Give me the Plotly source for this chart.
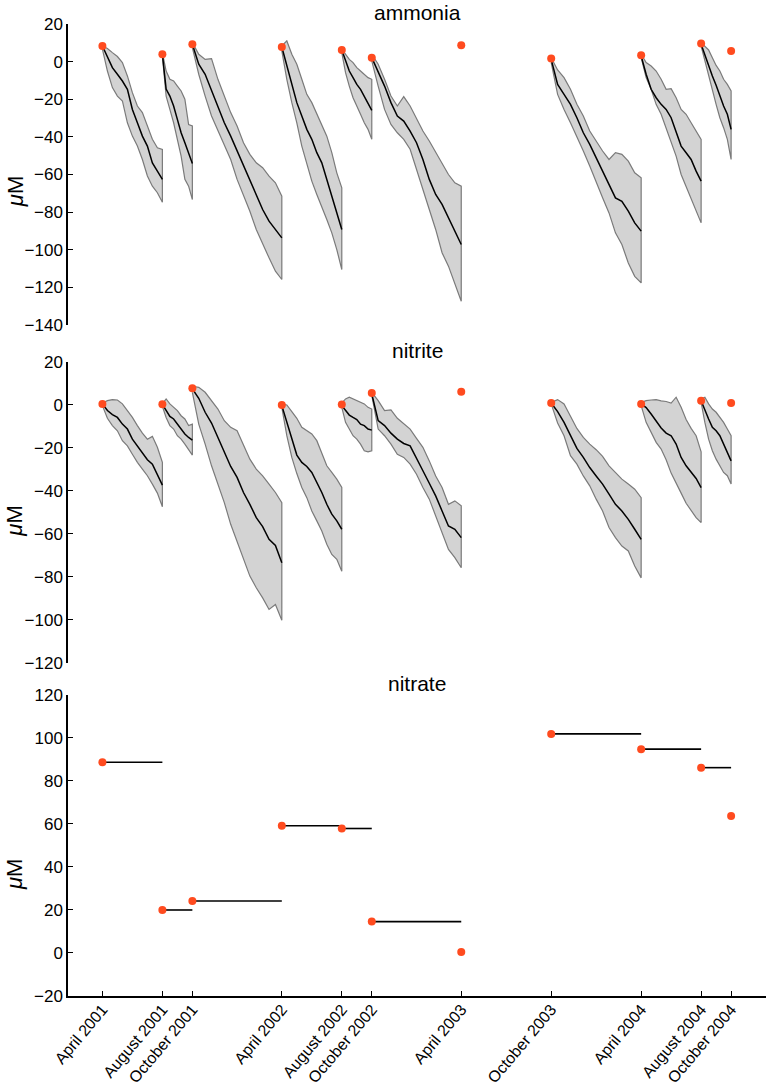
import pandas as pd
import plotly.graph_objects as go

# sampling dates and their tick labels
sample_dates = ["2001-04-01", "2001-08-01", "2001-10-01", "2002-04-01", "2002-08-01",
                "2002-10-01", "2003-04-01", "2003-10-01", "2004-04-01", "2004-08-01",
                "2004-10-01"]
tick_labels = ["April 2001", "August 2001", "October 2001", "April 2002", "August 2002",
               "October 2002", "April 2003", "October 2003", "April 2004", "August 2004",
               "October 2004"]

# observed concentrations (red dots)
ammonia_obs = [8.3, 3.9, 9.2, 7.8, 6.2, 2.1, 8.7, 1.6, 3.4, 9.6, 5.7]
nitrite_obs = [0.5, 0.3, 7.8, 0.0, 0.2, 5.6, 6.2, 0.9, 0.5, 2.0, 0.9]
nitrate_obs = [88.7, 20.0, 24.2, 59.2, 57.9, 14.6, 0.5, 101.9, 94.8, 86.2, 63.7]

# each projection runs from this sample to the next one
seg_start = [0, 1, 2, 3, 4, 5, 7, 8, 9]

# ammonia projections: mean, upper and lower envelope per segment
amm_mean = [
    [8.3, 2.1, -3.2, -6.7, -10.3, -14.7, -25.4, -32.5, -39.6, -44.9, -53.8, -58.2, -62.6],
    [3.9, -14.6, -18.3, -23.6, -30.7, -37.8, -43.1, -48.4, -54.1],
    [9.2, -1.4, -6.7, -15.6, -23.6, -32.5, -39.6, -47.5, -55.5, -63.5, -71.5, -78.6, -84.8, -89.2, -93.7],
    [7.8, -2.3, -13.0, -21.8, -28.9, -36.0, -41.3, -48.4, -53.8, -62.6, -71.5, -80.4, -89.2],
    [6.2, 0.4, -5.0, -8.5, -12.1, -14.7, -18.3, -21.8, -25.9],
    [2.1, -5.0, -13.0, -21.8, -28.9, -31.6, -36.9, -43.1, -52.0, -62.6, -70.6, -75.9, -83.0, -91.0, -97.2],
    [1.2, -12.1, -17.4, -22.7, -29.8, -37.8, -44.0, -51.1, -57.3, -64.4, -72.4, -74.2, -79.5, -85.7, -90.1],
    [3.0, -6.7, -14.7, -19.2, -22.7, -25.4, -29.8, -37.8, -44.9, -48.4, -52.0, -58.2, -63.5],
    [9.2, 3.4, -2.3, -7.6, -12.6, -18.3, -23.6, -28.0, -36.0],
]
amm_upper = [
    [8.3, 7.0, 4.8, 2.7, -0.5, -7.6, -16.5, -23.6, -27.1, -34.2, -41.3, -45.8, -46.7],
    [4.8, -5.0, -9.4, -10.3, -13.0, -15.6, -20.0, -33.4, -34.2],
    [10.1, 3.9, 1.2, 1.6, -9.4, -18.3, -27.1, -34.2, -43.1, -49.3, -53.8, -56.4, -60.9, -64.4, -71.5],
    [8.3, 11.0, 3.9, -1.4, -9.4, -17.4, -21.8, -28.0, -33.4, -39.6, -48.4, -59.1, -67.1],
    [6.6, 3.9, 1.2, -0.5, -3.2, -5.0, -6.7, -8.5, -9.4],
    [3.9, -1.4, -9.4, -18.3, -23.6, -18.6, -23.6, -30.7, -36.9, -42.2, -48.4, -54.6, -60.0, -64.4, -66.2],
    [2.1, -4.4, -8.5, -14.7, -22.7, -28.9, -36.9, -42.2, -47.5, -52.0, -48.4, -49.3, -52.9, -59.1, -61.7],
    [3.9, -0.5, -2.3, -5.0, -9.4, -14.7, -14.4, -19.2, -25.4, -28.0, -32.5, -36.9, -41.3],
    [10.1, 8.3, 6.2, 2.1, -2.0, -5.0, -9.4, -12.1, -15.6],
]
amm_lower = [
    [6.6, -5.0, -13.8, -18.3, -20.9, -32.5, -39.6, -44.9, -52.0, -60.8, -66.2, -69.7, -74.7],
    [3.0, -18.3, -25.4, -32.5, -41.3, -50.2, -62.6, -66.2, -73.3],
    [7.5, -6.7, -18.3, -28.9, -36.0, -44.0, -52.0, -62.6, -71.5, -79.5, -89.2, -97.2, -104.3, -111.4, -115.8],
    [5.7, -9.4, -21.8, -32.5, -44.9, -53.8, -63.5, -70.6, -77.7, -83.9, -91.0, -99.9, -110.5],
    [4.8, -5.9, -13.0, -19.2, -23.6, -28.0, -32.5, -36.0, -41.3],
    [0.4, -13.0, -25.4, -33.4, -37.8, -41.3, -46.6, -57.3, -67.9, -78.6, -89.2, -101.6, -108.7, -117.6, -127.4],
    [-0.5, -17.4, -25.4, -32.5, -39.6, -47.5, -55.5, -63.5, -72.4, -80.4, -91.0, -97.2, -107.0, -114.1, -117.6],
    [2.1, -8.5, -14.7, -22.7, -28.0, -35.1, -43.1, -50.2, -60.0, -67.1, -72.4, -79.5, -85.7],
    [8.3, 1.2, -7.6, -14.7, -22.7, -29.8, -35.1, -41.3, -52.0],
]

# nitrite projections
nit_mean = [
    [0.5, -2.6, -4.5, -5.8, -8.9, -11.2, -15.9, -19.3, -22.4, -25.5, -27.5, -32.2, -37.3],
    [0.3, -2.6, -5.3, -6.5, -8.9, -11.2, -13.5, -15.1, -16.3],
    [7.5, 3.1, -3.4, -8.4, -15.1, -21.8, -28.6, -33.7, -40.7, -46.2, -52.4, -56.6, -62.5, -65.3, -73.4],
    [-0.3, -8.1, -16.6, -23.3, -26.7, -28.6, -31.4, -36.1, -40.7, -46.2, -50.8, -53.9, -57.8],
    [-0.3, -2.6, -4.7, -5.8, -6.8, -8.9, -9.6, -11.2, -11.7],
    [5.1, -7.3, -9.6, -13.1, -15.9, -17.9, -19.0, -25.2, -30.6, -36.4, -42.3, -49.3, -56.3, -57.8, -61.7],
    [0.9, -3.1, -8.1, -14.3, -20.2, -24.4, -29.1, -33.0, -36.8, -41.5, -46.2, -49.3, -53.2, -57.8, -62.5],
    [0.5, -1.2, -4.2, -7.6, -10.7, -13.1, -14.3, -18.2, -24.4, -28.3, -31.4, -34.2, -38.4],
    [2.0, -2.6, -6.5, -10.4, -12.0, -14.3, -18.2, -22.1, -26.0],
]
nit_upper = [
    [0.9, 2.0, 2.5, 2.3, 0.5, -2.6, -5.8, -9.6, -13.1, -15.9, -14.6, -19.7, -26.7],
    [0.5, 2.8, 0.5, -1.1, -2.6, -5.0, -6.5, -9.6, -8.9],
    [8.7, 8.2, 5.9, 2.0, -1.9, -7.3, -10.4, -12.0, -18.2, -25.2, -29.8, -33.0, -36.8, -40.7, -45.4],
    [0.5, 0.0, -3.1, -6.2, -10.4, -12.0, -13.5, -16.6, -22.9, -28.3, -31.4, -34.5, -38.4],
    [0.9, 2.8, 3.6, 2.8, 2.0, 1.2, 0.5, -1.1, -1.9],
    [5.9, 2.0, -2.6, -2.3, -6.2, -8.6, -11.2, -15.5, -19.7, -26.0, -33.0, -38.4, -46.2, -44.6, -46.9],
    [1.2, 2.5, 0.5, -5.3, -10.9, -15.1, -18.2, -20.8, -23.9, -28.3, -31.4, -34.5, -36.8, -39.2, -43.1],
    [1.2, 2.0, 2.3, 2.5, 1.9, 1.6, 0.9, 3.6, -1.1, -6.8, -10.9, -14.3, -21.8],
    [2.8, 3.6, 0.5, -1.9, -3.4, -5.8, -8.1, -11.2, -14.3],
]
nit_lower = [
    [-0.3, -6.2, -9.6, -12.0, -16.6, -19.0, -22.9, -26.7, -29.8, -32.9, -36.8, -41.0, -47.3],
    [-0.6, -5.8, -9.6, -11.2, -14.3, -15.9, -18.2, -20.5, -23.3],
    [5.9, -8.9, -18.2, -28.3, -36.8, -45.4, -55.5, -64.0, -71.8, -79.6, -85.0, -89.7, -95.1, -92.8, -100.1],
    [-1.1, -14.3, -24.4, -31.9, -38.4, -43.1, -49.3, -53.9, -58.6, -64.8, -69.5, -71.8, -77.3],
    [-1.1, -8.1, -11.2, -14.3, -15.9, -18.2, -21.3, -21.8, -21.3],
    [4.4, -11.2, -14.3, -18.2, -22.9, -24.4, -27.5, -32.2, -38.4, -43.8, -50.8, -59.4, -67.2, -71.0, -75.7],
    [0.5, -8.4, -14.3, -23.6, -27.5, -33.0, -37.6, -43.8, -49.3, -57.0, -61.7, -65.6, -67.9, -74.9, -80.4],
    [-0.3, -8.1, -12.7, -17.4, -20.5, -25.5, -31.7, -36.4, -41.0, -45.7, -49.3, -52.4, -54.7],
    [1.2, -8.1, -15.9, -21.3, -25.2, -28.3, -31.4, -32.9, -36.8],
]

FONT = "Liberation Sans, Arial, sans-serif"
DOT = "#ff4b1f"

fig = go.Figure()


def add_projection(mean, upper, lower, obs, xa, ya):
    for k, s in enumerate(seg_start):
        x = pd.date_range(sample_dates[s], sample_dates[s + 1], periods=len(mean[k]))
        xs = list(x) + list(x[::-1])
        fig.add_trace(go.Scatter(x=xs, y=upper[k] + lower[k][::-1], fill="toself",
                                 fillcolor="#d3d3d3", mode="lines",
                                 line=dict(color="#7a7a7a", width=1.2),
                                 xaxis=xa, yaxis=ya, showlegend=False))
        fig.add_trace(go.Scatter(x=x, y=mean[k], mode="lines",
                                 line=dict(color="black", width=1.5),
                                 xaxis=xa, yaxis=ya, showlegend=False))
    fig.add_trace(go.Scatter(x=sample_dates, y=obs, mode="markers",
                             marker=dict(color=DOT, size=8),
                             xaxis=xa, yaxis=ya, showlegend=False))


add_projection(amm_mean, amm_upper, amm_lower, ammonia_obs, "x", "y")
add_projection(nit_mean, nit_upper, nit_lower, nitrite_obs, "x2", "y2")

# nitrate: flat projection from each sample to the next one
for s in seg_start:
    fig.add_trace(go.Scatter(x=[sample_dates[s], sample_dates[s + 1]],
                             y=[nitrate_obs[s], nitrate_obs[s]], mode="lines",
                             line=dict(color="black", width=1.6),
                             xaxis="x3", yaxis="y3", showlegend=False))
fig.add_trace(go.Scatter(x=sample_dates, y=nitrate_obs, mode="markers",
                         marker=dict(color=DOT, size=8),
                         xaxis="x3", yaxis="y3", showlegend=False))

xrange = ["2001-01-21", "2004-12-11"]
hidden_x = dict(range=xrange, type="date", showline=False, showticklabels=False,
                ticks="", showgrid=False, zeroline=False)
yax = dict(showline=True, linecolor="black", linewidth=1.5, ticks="inside", ticklen=5,
           tickcolor="black", showgrid=False, zeroline=False, dtick=20,
           tickfont=dict(family=FONT, size=17, color="black"))

fig.update_layout(
    width=766, height=1084,
    margin=dict(l=68, r=0, t=24, b=88),
    plot_bgcolor="white", paper_bgcolor="white",
    xaxis=dict(hidden_x, anchor="y"),
    xaxis2=dict(hidden_x, anchor="y2"),
    xaxis3=dict(range=xrange, type="date", anchor="y3", showline=True, linecolor="black",
                linewidth=1.5, ticks="inside", ticklen=5, tickcolor="black",
                showgrid=False, zeroline=False, tickvals=sample_dates, ticktext=tick_labels,
                tickangle=-50, ticklabelstandoff=-4, automargin=False,
                tickfont=dict(family=FONT, size=16, color="black")),
    yaxis=dict(yax, domain=[0.6903, 1.0], range=[-140, 20], anchor="x"),
    yaxis2=dict(yax, domain=[0.3426, 0.6523], range=[-120, 20], anchor="x2"),
    yaxis3=dict(yax, domain=[0.0, 0.3097], range=[-20, 120], anchor="x3"),
)

titles = [("ammonia", 1.0), ("nitrite", 0.6523), ("nitrate", 0.3097)]
for text, ytop in titles:
    fig.add_annotation(text=text, x=0.5, y=ytop, xref="paper", yref="paper",
                       xanchor="center", yanchor="bottom", showarrow=False, yshift=-2,
                       font=dict(family=FONT, size=21, color="black"))

for ymid in [0.827, 0.488, 0.1245]:
    fig.add_annotation(text="<i>μ</i>M", x=-0.0759, y=ymid, xref="paper", yref="paper",
                       xanchor="center", yanchor="middle", showarrow=False, textangle=-90,
                       font=dict(family=FONT, size=22, color="black"))

# the page's default body margin would shift the whole figure by 8px
fig.write_html("out.html", config={"displayModeBar": False},
               post_script="document.body.style.margin='0';")
